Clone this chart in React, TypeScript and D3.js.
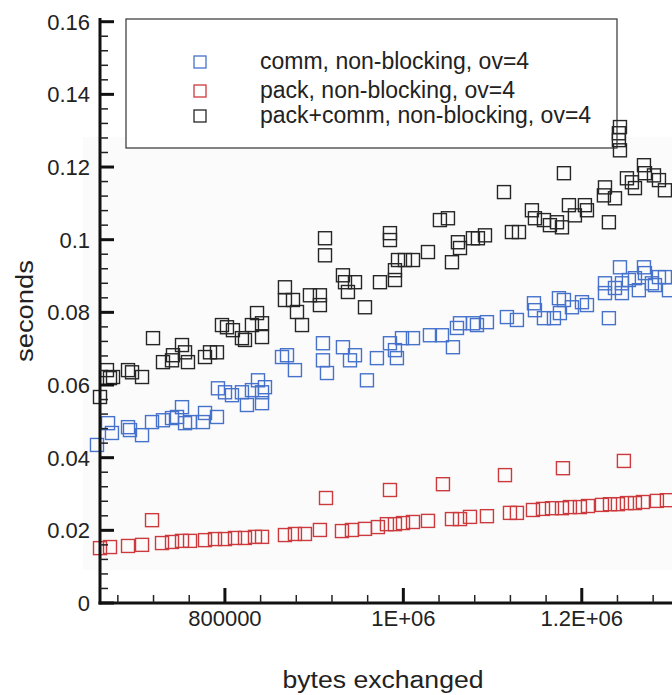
import React from "react";
import * as d3 from "d3";

// ---- data (bytes exchanged, seconds) ----
const commPoints: [number, number][] = [
  [656600, 0.0435], [669000, 0.0495], [673400, 0.0468], [691400, 0.0484], [693600, 0.0476],
  [707100, 0.0462], [718300, 0.0498], [730600, 0.0503], [740700, 0.0509], [746300, 0.0512],
  [751900, 0.0539], [755300, 0.0495], [760900, 0.0498], [775400, 0.0498], [777700, 0.0523],
  [791100, 0.0512], [792200, 0.0591], [800100, 0.058], [807900, 0.0572], [819100, 0.058],
  [830300, 0.0586], [837100, 0.0613], [824700, 0.0545], [841600, 0.055], [841600, 0.058],
  [844900, 0.0594], [864000, 0.0677], [869600, 0.0682], [878500, 0.0641], [909900, 0.0715],
  [909900, 0.0668], [914400, 0.0633], [932300, 0.0704], [940200, 0.0668], [945800, 0.0682],
  [959200, 0.0613], [970400, 0.0674], [985000, 0.0715], [990600, 0.0696], [992800, 0.0674],
  [998500, 0.0729], [1010800, 0.0729], [1029800, 0.0737], [1043300, 0.0737], [1055600, 0.0704],
  [1060100, 0.0757], [1063500, 0.077], [1078000, 0.077], [1082500, 0.0765], [1093700, 0.0773],
  [1116100, 0.0787], [1127300, 0.0779], [1146400, 0.0825], [1147500, 0.0806], [1157600, 0.0784],
  [1168800, 0.0784], [1175500, 0.0798], [1180000, 0.0834], [1189000, 0.0814], [1200200, 0.0828],
  [1205800, 0.082], [1226000, 0.0853], [1230400, 0.0784], [1237200, 0.0867], [1245000, 0.0853],
  [1264000, 0.0861], [1282000, 0.0875], [1297700, 0.0861], [1226000, 0.088], [1242800, 0.0924],
  [1245000, 0.088], [1252800, 0.0889], [1259600, 0.0894], [1269700, 0.0924], [1270800, 0.0908],
  [1278600, 0.088], [1286500, 0.0897], [1293200, 0.0897], [1174400, 0.0839],
];

const packPoints: [number, number][] = [
  [660000, 0.0151], [671200, 0.0154], [691400, 0.0157], [707100, 0.016], [729500, 0.0165],
  [740700, 0.0168], [751900, 0.0171], [760900, 0.0171], [777700, 0.0173], [788900, 0.0176],
  [800100, 0.0176], [811300, 0.0179], [822500, 0.0179], [833700, 0.0182], [841600, 0.0182],
  [867300, 0.0187], [878500, 0.019], [889700, 0.019], [906500, 0.0201], [931200, 0.0198],
  [942400, 0.0201], [957000, 0.0204], [971500, 0.0209], [981600, 0.0217], [990600, 0.0217],
  [999600, 0.022], [1010800, 0.0223], [1027600, 0.0226], [1054500, 0.0231], [1063500, 0.0231],
  [1074700, 0.0237], [1093700, 0.0239], [1119500, 0.0248], [1127300, 0.0248], [1145300, 0.0256],
  [1156500, 0.0259], [1166600, 0.0261], [1177800, 0.0261], [1186700, 0.0264], [1197900, 0.0264],
  [1206900, 0.0267], [1222600, 0.027], [1231600, 0.0272], [1240500, 0.0272], [1250600, 0.0275],
  [1259600, 0.0275], [1268500, 0.0278], [1284200, 0.0281], [1295400, 0.0283],
  [718300, 0.0228], [913300, 0.0289], [985000, 0.0311], [1044400, 0.0327], [1113900, 0.0352],
  [1178900, 0.0371], [1247200, 0.0391],
];

const totalPoints: [number, number][] = [
  [660000, 0.0567], [667800, 0.0641], [671200, 0.0619], [674600, 0.0622], [691400, 0.0641],
  [695900, 0.0635], [707100, 0.0622], [719400, 0.0729], [730600, 0.0663], [740700, 0.0668],
  [741800, 0.0682], [751900, 0.071], [755300, 0.069], [758600, 0.0663], [777700, 0.0677],
  [783300, 0.069], [791100, 0.069], [796700, 0.0765], [802300, 0.0759], [809000, 0.0751],
  [819100, 0.0729], [822500, 0.0724], [830300, 0.0765], [836000, 0.0798], [841600, 0.077],
  [841600, 0.0732], [867300, 0.0869], [867300, 0.0834], [876300, 0.0834], [880800, 0.0801],
  [886400, 0.0765], [895300, 0.0847], [906500, 0.0847], [906500, 0.082], [912200, 0.1004],
  [912200, 0.0957], [932300, 0.0902], [934600, 0.0883], [937900, 0.0856], [945800, 0.0883],
  [957000, 0.0814], [973800, 0.0883], [990600, 0.0916], [990600, 0.0889], [985000, 0.1018],
  [985000, 0.0999], [994000, 0.0944], [1001800, 0.0944], [1010800, 0.0944], [1027600, 0.0966],
  [1041000, 0.1054], [1050000, 0.1059], [1054500, 0.0938], [1061200, 0.0993], [1063500, 0.0977],
  [1078000, 0.1004], [1083600, 0.1004], [1091500, 0.1012], [1112800, 0.1131], [1121700, 0.1021],
  [1129600, 0.1021], [1144100, 0.1081], [1147500, 0.1059], [1157600, 0.1054], [1164300, 0.104],
  [1172200, 0.1048], [1177800, 0.1034], [1180000, 0.1183], [1185600, 0.1095], [1192300, 0.1067],
  [1203500, 0.1095], [1205800, 0.1081], [1224800, 0.1122], [1226000, 0.1144], [1230400, 0.1048],
  [1237200, 0.1114], [1241600, 0.1293], [1241600, 0.1274], [1242800, 0.131], [1242800, 0.1246],
  [1250600, 0.1169], [1256200, 0.1158], [1259600, 0.1142], [1269700, 0.1205], [1270800, 0.1183],
  [1280900, 0.1177], [1286500, 0.1164], [1293200, 0.1136],
];

const seriesNames = [
  "comm, non-blocking, ov=4",
  "pack, non-blocking, ov=4",
  "pack+comm, non-blocking, ov=4",
];
const seriesColors = ["#4672cc", "#cc3a3e", "#262626"];

const xMajorTicks = [800000, 1000000, 1200000];
const xTickLabels = ["800000", "1E+06", "1.2E+06"];
const yMajorTicks = [0, 0.02, 0.04, 0.06, 0.08, 0.1, 0.12, 0.14, 0.16];
const yTickLabels = ["0", "0.02", "0.04", "0.06", "0.08", "0.1", "0.12", "0.14", "0.16"];

const FONT = "'Liberation Sans', Arial, Helvetica, sans-serif";

export default function App() {
  const W = 672;
  const H = 695;
  const x = d3.scaleLinear().domain([660000, 1300000]).range([100, 671]);
  const y = d3.scaleLinear().domain([0, 0.16]).range([603, 21.7]);

  const xMinor = d3.range(680000, 1300001, 40000).filter((v) => !xMajorTicks.includes(v));
  const yMinor = d3.range(0, 0.1601, 0.004).filter(
    (v) => !yMajorTicks.some((m) => Math.abs(m - v) < 1e-6)
  );

  const S = 13;
  const allSeries = [commPoints, packPoints, totalPoints];
  const drawOrder = [2, 0, 1];
  const legendRows = [62, 91, 116];

  return (
    <svg width={W} height={H} style={{ display: "block", position: "absolute", left: 0, top: 0 }}>
      <rect x={0} y={0} width={W} height={H} fill="#ffffff" />
      <rect x={83} y={137} width={W - 83} height={433} fill="#fbfbfb" />

      {/* legend */}
      <rect x={126} y={19} width={491} height={129} fill="#ffffff" stroke="#333" strokeWidth={1.2} />
      {seriesNames.map((name, i) => {
        const ry = legendRows[i];
        return (
          <g key={name}>
            <rect x={194} y={ry - 6} width={12} height={12} fill="none" stroke={seriesColors[i]} strokeWidth={1.3} />
            <text x={260} y={ry + 7} fontFamily={FONT} fontSize={23} fill="#222">
              {name}
            </text>
          </g>
        );
      })}

      {/* points */}
      {drawOrder.map((si) =>
        allSeries[si].map((p, j) => (
          <rect
            key={`${si}-${j}`}
            x={x(p[0]) - S / 2}
            y={y(p[1]) - S / 2}
            width={S}
            height={S}
            fill="none"
            stroke={seriesColors[si]}
            strokeWidth={1.4}
          />
        ))
      )}

      {/* y axis */}
      <line x1={100} x2={100} y1={18} y2={604.5} stroke="#111" strokeWidth={3} />
      {yMajorTicks.map((v, i) => (
        <g key={`ym${i}`}>
          <line x1={100} x2={114} y1={y(v)} y2={y(v)} stroke="#111" strokeWidth={3} />
          <text x={90} y={y(v) + 8} textAnchor="end" fontFamily={FONT} fontSize={22} fill="#222">
            {yTickLabels[i]}
          </text>
        </g>
      ))}
      {yMinor.map((v, i) => (
        <line key={`yn${i}`} x1={100} x2={108} y1={y(v)} y2={y(v)} stroke="#222" strokeWidth={1.5} />
      ))}

      {/* x axis */}
      <line x1={98.5} x2={672} y1={603} y2={603} stroke="#111" strokeWidth={3} />
      {xMajorTicks.map((v, i) => (
        <g key={`xm${i}`}>
          <line x1={x(v)} x2={x(v)} y1={603} y2={588} stroke="#111" strokeWidth={3} />
          <text x={x(v)} y={626} textAnchor="middle" fontFamily={FONT} fontSize={22} fill="#222">
            {xTickLabels[i]}
          </text>
        </g>
      ))}
      {xMinor.map((v, i) => (
        <line key={`xn${i}`} x1={x(v)} x2={x(v)} y1={603} y2={595} stroke="#222" strokeWidth={1.5} />
      ))}

      {/* axis titles */}
      <text
        x={383}
        y={688}
        textAnchor="middle"
        fontFamily={FONT}
        fontSize={23}
        fill="#222"
        textLength={201}
        lengthAdjust="spacingAndGlyphs"
      >
        bytes exchanged
      </text>
      <text
        transform="translate(33,311) rotate(-90)"
        x={0}
        y={0}
        textAnchor="middle"
        fontFamily={FONT}
        fontSize={23}
        fill="#222"
        textLength={102}
        lengthAdjust="spacingAndGlyphs"
      >
        seconds
      </text>
    </svg>
  );
}
